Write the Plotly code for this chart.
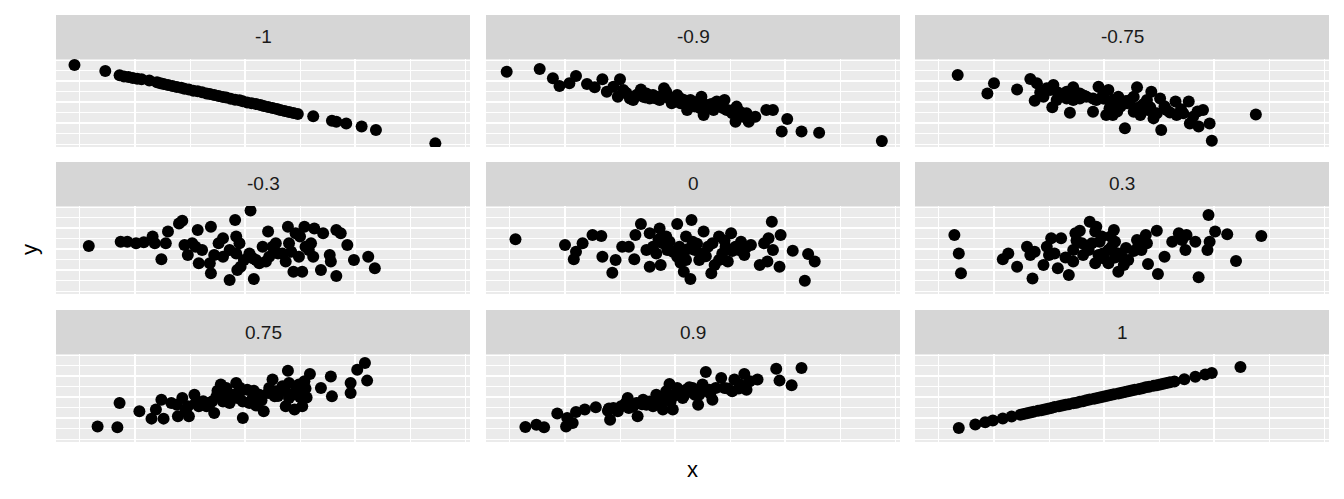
import plotly.graph_objects as go

# facet labels (correlation used in each panel)
PANEL_LABELS = ["-1", "-0.9", "-0.75", "-0.3", "0", "0.3", "0.75", "0.9", "1"]

# r = -1
x_m100 = [-1.55, -1.27, -1.14, -1.10, -1.06, -1.02, -0.98, -0.94, -0.87, -0.80, -0.77, -0.74, -0.70,
          -0.66, -0.62, -0.58, -0.55, -0.51, -0.47, -0.43, -0.39, -0.35, -0.32, -0.28, -0.24, -0.20,
          -0.17, -0.13, -0.09, -0.05, -0.02, 0.02, 0.06, 0.10, 0.14, 0.17, 0.21, 0.25, 0.29, 0.32,
          0.36, 0.40, 0.44, 0.48, 0.62, 0.79, 0.83, 0.92, 1.06, 1.19, 1.73]
y_m100 = [1.76, 1.48, 1.27, 1.22, 1.19, 1.14, 1.11, 1.08, 1.02, 0.94, 0.89, 0.86, 0.81,
          0.76, 0.71, 0.68, 0.63, 0.59, 0.54, 0.51, 0.46, 0.41, 0.38, 0.33, 0.29, 0.24,
          0.21, 0.16, 0.11, 0.08, 0.03, -0.02, -0.06, -0.10, -0.14, -0.19, -0.24, -0.29, -0.33, -0.38,
          -0.43, -0.48, -0.52, -0.57, -0.68, -0.89, -0.94, -1.02, -1.17, -1.33, -1.97]

# r = -0.9
x_m090 = [-1.53, -1.23, -1.11, -1.05, -0.96, -0.90, -0.80, -0.73, -0.66, -0.62, -0.50, -0.52, -0.44,
          -0.38, -0.31, -0.29, -0.20, -0.14, -0.10, -0.08, -0.03, 0.02, 0.05, 0.11, 0.14, 0.18, 0.24,
          0.26, 0.32, 0.35, 0.45, 0.47, 0.55, 0.56, 0.65, 0.67, 0.73, 0.83, 0.89, 1.02, 0.97, 1.15,
          1.31, 1.88, -0.56, -0.47, -0.35, -0.26, -0.17, -0.11, -0.02, 0.08, 0.17, 0.21, 0.29, 0.41,
          0.52, 0.59, 0.62, -0.41, -0.23, -0.08, 0.05, 0.12, 0.23, 0.38,
          -0.45, -0.33, -0.27, -0.18, -0.06, 0.00, 0.03, 0.10, 0.15, 0.20, 0.27, 0.33, 0.44, 0.50]
y_m090 = [1.44, 1.57, 1.13, 0.76, 0.89, 1.24, 0.86, 0.70, 1.08, 0.49, 1.08, 0.25, 0.41,
          0.10, 0.60, 0.25, 0.33, 0.10, 0.65, 0.25, -0.06, 0.33, -0.06, -0.38, 0.10, -0.22, 0.25,
          -0.62, -0.22, -0.38, 0.10, -0.38, -0.94, -0.22, -0.54, -0.94, -0.70, -0.38, -0.38, -0.81, -1.41, -1.41,
          -1.46, -1.86, 0.73, 0.57, 0.33, 0.41, 0.25, 0.33, 0.10, 0.10, -0.06, 0.02, -0.14, -0.22,
          -0.54, -0.46, -0.70, 0.17, 0.17, 0.49, 0.17, -0.14, -0.30, 0.02,
          0.45, 0.38, 0.22, 0.18, 0.20, 0.22, 0.02, -0.10, -0.02, -0.12, -0.30, -0.10, -0.30, -0.40]

# r = -0.75
x_m075 = [-1.33, -1.06, -1.00, -0.79, -0.67, -0.61, -0.63, -0.52, -0.46, -0.47, -0.40, -0.34, -0.31,
          -0.28, -0.22, -0.10, -0.10, -0.05, 0.04, 0.05, 0.08, 0.13, 0.19, 0.21, 0.27, 0.30, 0.33,
          0.43, 0.45, 0.51, 0.52, 0.57, 0.65, 0.66, 0.77, 0.78, 0.86, 0.90, 0.96, 0.98, 1.38,
          -0.55, -0.43, -0.28, -0.16, -0.01, 0.08, 0.15, 0.24, 0.39, 0.40, 0.48, 0.72, 0.81, 0.02,
          0.27, -0.49, -0.34, -0.22, -0.07, 0.33, 0.08,
          -0.58, -0.42, -0.36, -0.25, -0.18, 0.00, 0.06, 0.10, 0.14, 0.20, 0.30, 0.36, 0.42, 0.55,
          0.60, 0.70, 0.85, 0.12]
y_m075 = [1.29, 0.41, 0.89, 0.60, 1.10, 0.89, 0.06, 0.65, 0.81, -0.25, 0.33, 0.49, -0.51,
          0.70, 0.17, -0.46, 0.17, 0.73, 0.57, -0.30, -0.62, 0.25, -1.25, -0.06, -0.46, 0.70, -0.22,
          0.49, -0.78, 0.17, -1.33, -0.38, 0.02, -0.62, 0.02, -1.02, -1.17, -0.38, -1.02, -1.84, -0.59,
          0.25, 0.10, 0.10, 0.25, 0.33, 0.10, -0.22, 0.10, 0.10, -0.38, -0.54, -0.54, -0.70, -0.62,
          0.25, 0.57, 0.17, 0.41, 0.10, -0.62, -0.22,
          0.45, 0.45, 0.30, 0.30, 0.30, 0.15, 0.00, -0.35, -0.10, 0.05, -0.30, -0.10, -0.25, -0.20,
          -0.50, -0.35, -0.45, -0.45]

# r = -0.3
x_m030 = [-1.42, -1.13, -1.07, -0.99, -0.92, -0.84, -0.82, -0.76, -0.72, -0.70, -0.60, -0.57, -0.55,
          -0.52, -0.43, -0.45, -0.42, -0.39, -0.31, -0.31, -0.28, -0.24, -0.20, -0.14, -0.09, -0.08,
          -0.08, -0.07, -0.05, -0.01, 0.05, 0.07, 0.08, 0.13, 0.16, 0.21, 0.22, 0.28, 0.30, 0.37,
          0.39, 0.42, 0.44, 0.46, 0.49, 0.52, 0.54, 0.55, 0.60, 0.63, 0.62, 0.71, 0.69, 0.77, 0.78,
          0.83, 0.83, 0.87, 0.93, 0.99, 1.12, 1.18, -0.20, -0.14, 0.04, 0.10, 0.19, 0.25, 0.40,
          0.50, 0.58, -0.32, -0.48, -0.04, 0.34]
y_m030 = [0.14, 0.35, 0.35, 0.27, 0.32, 0.59, 0.27, -0.49, 0.27, 0.83, 1.22, 1.35, 0.19,
          -0.29, 0.90, 0.11, -0.68, -0.05, 1.06, -1.16, -0.29, 0.27, 0.51, -1.48, 1.38, 0.59,
          -0.21, -1.00, 0.27, -0.52, 1.83, -0.44, -1.43, -0.68, 0.11, 0.83, -0.37, 0.27, -0.21, -0.60,
          1.06, -0.13, -1.08, 0.75, -0.37, -1.08, 1.06, 0.11, 0.27, 0.98, -0.37, 0.75, -1.00, -0.29, -0.60,
          0.90, -1.29, 0.75, 0.19, -0.52, -0.37, -0.92, -0.37, -0.05, -0.21, -0.52, -0.60, 0.11, 0.27,
          0.59, -0.05, -0.68, 0.27, -0.84, -0.21]

# r = 0
x_p000 = [-1.45, -1.00, -0.92, -0.90, -0.84, -0.75, -0.67, -0.66, -0.57, -0.54, -0.48, -0.42, -0.37,
          -0.36, -0.31, -0.26, -0.23, -0.23, -0.14, -0.13, -0.11, -0.08, 0.02, 0.02, 0.04, 0.08, 0.10,
          0.14, 0.15, 0.18, 0.22, 0.26, 0.30, 0.33, 0.36, 0.40, 0.43, 0.48, 0.51, 0.55, 0.60, 0.63,
          0.69, 0.77, 0.81, 0.84, 0.88, 0.89, 0.95, 0.96, 1.07, 1.21, 1.27, 1.18, -0.20, -0.17, -0.02,
          0.07, 0.16, 0.25, 0.34, 0.46, 0.58, -0.07, 0.10, 0.40, 0.85,
          -0.15, -0.05, 0.00, 0.12, 0.20, 0.28, 0.45, 0.52, 0.65, 0.05]
y_p000 = [0.46, 0.19, -0.49, -0.13, 0.27, 0.67, 0.62, -0.37, -1.13, -0.52, 0.11, 0.11, -0.49,
          0.67, 1.19, -0.05, -0.84, 0.75, 0.98, -0.76, 0.27, 0.59, 1.19, -0.37, 0.11, -1.08, 0.59,
          -1.43, 1.38, -0.05, -0.52, 0.83, 0.11, -1.16, -0.76, 0.59, -0.21, -0.60, 0.75, 0.11, 0.35, -0.29,
          0.19, -0.76, 0.27, -0.60, 1.30, -0.05, -0.84, 0.67, -0.08, -0.24, -0.60, -1.51, 0.11, -0.21, -0.13,
          -0.21, 0.35, -0.21, 0.27, 0.11, -0.05, -0.05, -0.52, -0.52, 0.51,
          0.45, 0.35, -0.15, 0.00, 0.25, -0.35, 0.40, -0.10, 0.10, -0.65]

# r = 0.3
x_p030 = [-1.36, -1.32, -1.30, -0.92, -0.87, -0.79, -0.70, -0.65, -0.63, -0.55, -0.52, -0.48, -0.45,
          -0.42, -0.39, -0.32, -0.28, -0.26, -0.28, -0.22, -0.19, -0.13, -0.11, -0.08, -0.07, -0.02,
          -0.01, 0.07, 0.09, 0.10, 0.13, 0.16, 0.22, 0.30, 0.34, 0.38, 0.40, 0.48, 0.49, 0.55, 0.62,
          0.68, 0.74, 0.75, 0.83, 0.86, 0.94, 0.96, 0.95, 1.01, 1.12, 1.20, 1.43, -0.20, -0.14, -0.05,
          0.04, 0.13, 0.18, 0.31, 0.39, 0.71, -0.67, -0.50, -0.08, 0.04,
          -0.15, -0.04, 0.00, 0.06, 0.10, 0.20, 0.27, 0.36, -0.35, -0.25]
y_p030 = [0.67, -0.21, -1.16, -0.49, -0.21, -0.84, 0.11, -1.40, -0.13, -0.76, 0.11, 0.51, -0.21,
          -0.92, 0.51, -1.24, -0.05, 0.75, -0.60, 0.87, -0.29, 1.30, 0.27, -0.68, 1.06, 0.59,
          -0.21, 0.11, 0.90, 0.35, -1.08, -0.37, -0.52, 0.43, -0.05, 0.67, -0.71, 0.87, -1.19, -0.37, 0.35,
          0.75, -0.05, 0.67, 0.35, -1.35, -0.05, 0.35, 1.62, 0.83, 0.70, -0.57, 0.62, 0.27, -0.05, -0.29,
          -0.05, -0.21, -0.76, 0.11, 0.27, 0.43, -0.29, -0.29, 0.83, -0.68,
          0.05, 0.35, -0.45, 0.60, -0.40, 0.05, -0.10, 0.45, -0.40, 0.40]

# r = 0.75
x_p075 = [-1.34, -1.16, -1.14, -0.96, -0.85, -0.81, -0.76, -0.74, -0.67, -0.61, -0.57, -0.52, -0.51,
          -0.46, -0.42, -0.32, -0.28, -0.26, -0.22, -0.20, -0.14, -0.08, -0.07, -0.02, 0.02, 0.04,
          0.13, 0.17, 0.21, 0.25, 0.28, 0.37, 0.39, 0.40, 0.45, 0.46, 0.52, 0.54, 0.56, 0.59, 0.69,
          0.78, 0.79, 0.96, 0.96, 1.02, 1.09, 1.11, -0.45, -0.35, -0.30, -0.17, -0.11, -0.04, 0.07,
          0.22, 0.34, 0.43, 0.49, -0.62, -0.54, -0.02, -0.20, 0.27, 0.40,
          -0.25, -0.15, -0.05, 0.08, 0.15, 0.30, 0.36, 0.50, 0.55, -0.38, 0.10]
y_p075 = [-1.40, -1.44, -0.29, -0.68, -1.03, -0.60, -0.13, -1.03, -0.29, -0.92, -0.05, -0.44, -0.92,
          0.11, -0.44, -0.29, -0.76, 0.03, 0.59, 0.19, -0.29, 0.67, -0.05, -1.00, 0.35, -0.29,
          0.11, -0.68, 0.19, 0.83, 0.27, -0.44, 1.25, 0.67, -0.60, 0.27, -0.44, 0.75, -0.02, 1.10, 0.43,
          0.98, 0.03, 0.67, 0.19, 1.30, 1.62, 0.78, -0.29, -0.44, -0.21, 0.43, 0.11, 0.27, -0.05,
          0.43, 0.51, 0.11, 0.59, -0.37, -0.68, -0.21, -0.21, 0.03, -0.05,
          0.30, -0.05, 0.45, 0.30, -0.15, 0.05, 0.30, 0.00, 0.40, -0.20, -0.40]

# r = 0.9
x_p090 = [-1.36, -1.26, -1.19, -1.07, -0.99, -0.98, -0.93, -0.90, -0.82, -0.72, -0.61, -0.59, -0.56,
          -0.49, -0.43, -0.42, -0.35, -0.34, -0.29, -0.23, -0.20, -0.17, -0.13, -0.08, -0.05, -0.04,
          -0.02, 0.02, 0.07, 0.13, 0.18, 0.21, 0.25, 0.28, 0.31, 0.34, 0.42, 0.45, 0.52, 0.54, 0.63,
          0.65, 0.68, 0.75, 0.92, 0.95, 1.06, 1.15, -0.52, -0.38, -0.26, -0.14, -0.02, 0.10, 0.16,
          0.22, 0.37, 0.59, -0.11, 0.02,
          -0.45, -0.30, -0.18, -0.10, 0.05, 0.08, 0.14, 0.26, 0.32, 0.48, 0.58, -0.60]
y_p090 = [-1.43, -1.32, -1.44, -0.79, -1.40, -1.00, -1.24, -0.71, -0.60, -0.49, -0.65, -1.08, -0.52,
          -0.44, -0.05, -0.52, -0.29, -0.92, -0.13, -0.21, -0.44, 0.11, -0.29, 0.27, 0.62, -0.21,
          -0.60, 0.43, -0.05, 0.46, 0.11, -0.37, 0.59, 1.19, 0.35, -0.13, 0.90, 0.43, 0.27, 0.83, 1.10,
          0.35, 0.75, 0.83, 1.35, 0.78, 0.56, 1.38, -0.68, -0.44, -0.37, -0.05, 0.03, 0.35, 0.43,
          0.11, 0.43, 0.59, -0.60, 0.11,
          -0.30, -0.35, -0.20, 0.05, 0.20, 0.05, 0.25, 0.30, 0.15, 0.40, 0.40, -0.55]

# r = 1
x_p100 = [-1.32, -1.17, -1.08, -1.01, -0.92, -0.84, -0.76, -0.70, -0.64, -0.57, -0.51, -0.45, -0.38,
          -0.32, -0.25, -0.19, -0.13, -0.06, 0.00, 0.06, 0.13, 0.19, 0.25, 0.32, 0.38, 0.45, 0.51,
          0.57, 0.64, 0.73, 0.83, 0.92, 0.98, 1.24,
          -0.73, -0.67, -0.60, -0.54, -0.48, -0.41, -0.35, -0.28, -0.22, -0.16, -0.09, -0.03,
          0.03, 0.09, 0.16, 0.22, 0.28, 0.35, 0.41, 0.48, 0.54, 0.60]
y_p100 = [-1.48, -1.31, -1.20, -1.12, -1.02, -0.93, -0.85, -0.77, -0.70, -0.63, -0.56, -0.48, -0.41,
          -0.34, -0.27, -0.20, -0.12, -0.05, 0.02, 0.10, 0.17, 0.24, 0.31, 0.38, 0.46, 0.53, 0.60,
          0.67, 0.74, 0.85, 0.96, 1.07, 1.14, 1.43,
          -0.81, -0.74, -0.66, -0.59, -0.52, -0.44, -0.37, -0.30, -0.23, -0.16, -0.08, -0.01,
          0.06, 0.13, 0.20, 0.27, 0.35, 0.42, 0.49, 0.56, 0.63, 0.70]

PANELS = [
    (x_m100, y_m100), (x_m090, y_m090), (x_m075, y_m075),
    (x_m030, y_m030), (x_p000, y_p000), (x_p030, y_p030),
    (x_p075, y_p075), (x_p090, y_p090), (x_p100, y_p100),
]

W, H = 1344, 499
FONT = "Liberation Sans, Arial, Helvetica, sans-serif"

# panel geometry in pixels (left/right of columns, top/bottom of rows)
COLS = [(56, 470), (486, 900), (915, 1329)]
ROWS = [(59, 147), (206, 294), (354, 442)]
STRIP_H = 44

X_RANGE = [-1.718, 2.045]
Y_RANGE = [-2.143, 2.048]

fig = go.Figure()
shapes = []
annotations = []

for i, (xs, ys) in enumerate(PANELS):
    r, c = divmod(i, 3)
    n = "" if i == 0 else str(i + 1)
    x0, x1 = COLS[c]
    top, bot = ROWS[r]
    fig.add_trace(go.Scatter(
        x=xs, y=ys, mode="markers", xaxis="x" + n, yaxis="y" + n,
        marker=dict(color="black", size=12, line=dict(width=0)),
        showlegend=False, hoverinfo="skip",
    ))
    common = dict(showticklabels=False, ticks="", zeroline=False, showline=False,
                  gridcolor="white", gridwidth=2)
    fig.layout["xaxis" + n] = dict(
        domain=[x0 / W, x1 / W], range=X_RANGE, anchor="y" + n,
        tickvals=[-1, 0, 1],
        minor=dict(tickvals=[-1.5, -0.5, 0.5, 1.5, 2.0], showgrid=True,
                   gridcolor="white", gridwidth=1, ticks=""),
        **common)
    fig.layout["yaxis" + n] = dict(
        domain=[1 - bot / H, 1 - top / H], range=Y_RANGE, anchor="x" + n,
        tickvals=[-1, 0, 1],
        minor=dict(tickvals=[-2.0, -1.5, -0.5, 0.5, 1.5, 2.0], showgrid=True,
                   gridcolor="white", gridwidth=1, ticks=""),
        **common)

    # facet strip
    shapes.append(dict(type="rect", xref="paper", yref="paper",
                       x0=x0 / W, x1=x1 / W, y0=1 - top / H, y1=1 - (top - STRIP_H) / H,
                       fillcolor="#D6D6D6", line=dict(width=0), layer="below"))
    annotations.append(dict(text=PANEL_LABELS[i], xref="paper", yref="paper",
                            x=(x0 + x1) / 2 / W, y=1 - (top - STRIP_H / 2) / H,
                            showarrow=False, xanchor="center", yanchor="middle",
                            font=dict(family=FONT, size=19, color="#1A1A1A")))

annotations.append(dict(text="x", xref="paper", yref="paper", x=692.5 / W, y=1 - 469 / H,
                        showarrow=False, xanchor="center", yanchor="middle",
                        font=dict(family=FONT, size=22, color="black")))
annotations.append(dict(text="y", xref="paper", yref="paper", x=30 / W, y=1 - 250 / H,
                        showarrow=False, xanchor="center", yanchor="middle", textangle=-90,
                        font=dict(family=FONT, size=22, color="black")))

fig.update_layout(
    width=W, height=H,
    margin=dict(l=0, r=0, t=0, b=0),
    paper_bgcolor="white", plot_bgcolor="#EBEBEB",
    shapes=shapes, annotations=annotations,
)

# the page's default body margin would push the figure 8px off
fig.write_html("out.html", config={"displayModeBar": False},
               post_script="document.body.style.margin='0';")
